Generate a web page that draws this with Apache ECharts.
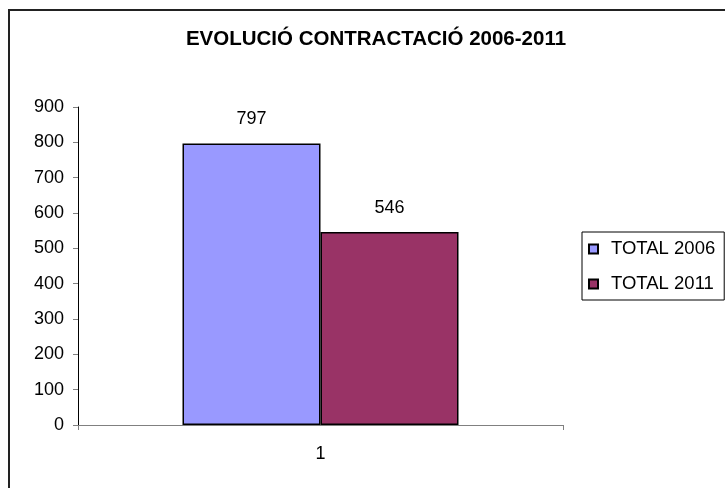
<!DOCTYPE html>
<html>
<head>
<meta charset="utf-8">
<script src="https://cdn.jsdelivr.net/npm/echarts@6/dist/echarts.min.js"></script>
<style>html,body{margin:0;padding:0;background:#fff;}#c{width:725px;height:488px;}</style>
</head>
<body>
<div id="c"></div>
<script>
const titleText = 'EVOLUCIÓ CONTRACTACIÓ 2006-2011';
const categories = ['1'];
const seriesNames = ['TOTAL 2006', 'TOTAL 2011'];
const values2006 = [797];
const values2011 = [546];
const yMin = 0, yMax = 900, yInterval = 100;

const chart = echarts.init(document.getElementById('c'), null, {renderer: 'canvas'});
const font = 'Liberation Sans, Arial, sans-serif';
chart.setOption({
  animation: false,
  backgroundColor: '#fff',
  textStyle: {fontFamily: font},
  title: {
    text: titleText,
    left: 371, top: 24, textAlign: 'center',
    textStyle: {fontFamily: font, fontSize: 20.5, fontWeight: 'bold', color: '#000'}
  },
  graphic: [{
    type: 'rect', silent: true,
    shape: {x: 9, y: 10, width: 1000, height: 1000},
    style: {fill: 'none', stroke: '#222', lineWidth: 2}
  }],
  legend: {
    orient: 'vertical',
    left: 582, top: 232,
    width: 140,
    padding: [7, 9, 6, 6],
    itemGap: 15,
    itemWidth: 9, itemHeight: 9,
    borderColor: '#000', borderWidth: 1,
    icon: 'rect',
    textStyle: {fontFamily: font, fontSize: 18.5, color: '#000', padding: [0, 0, 0, 8], lineHeight: 20},
    data: seriesNames
  },
  grid: {left: 78, right: 162, top: 107, bottom: 63, containLabel: false},
  xAxis: {
    type: 'category',
    data: categories,
    boundaryGap: true,
    axisLine: {lineStyle: {color: '#808080', width: 1}},
    axisTick: {show: true, length: 5, lineStyle: {color: '#808080'}},
    axisLabel: {fontFamily: font, fontSize: 18, color: '#000', margin: 20}
  },
  yAxis: {
    type: 'value',
    min: yMin, max: yMax, interval: yInterval,
    axisLine: {show: true, lineStyle: {color: '#000', width: 1}},
    axisTick: {show: true, length: 5, lineStyle: {color: '#808080'}},
    splitLine: {show: false},
    axisLabel: {fontFamily: font, fontSize: 18, color: '#000', margin: 14}
  },
  series: [{
    name: seriesNames[0], type: 'bar', data: values2006,
    barWidth: 138, barGap: '0%',
    itemStyle: {color: '#9999FF', borderColor: '#000', borderWidth: 1.5},
    label: {show: true, position: 'top', distance: 15, fontFamily: font, fontSize: 18, color: '#000'}
  }, {
    name: seriesNames[1], type: 'bar', data: values2011,
    barWidth: 138, barGap: '0%',
    itemStyle: {color: '#993366', borderColor: '#000', borderWidth: 1.5},
    label: {show: true, position: 'top', distance: 15, fontFamily: font, fontSize: 18, color: '#000'}
  }]
});
</script>
</body>
</html>
